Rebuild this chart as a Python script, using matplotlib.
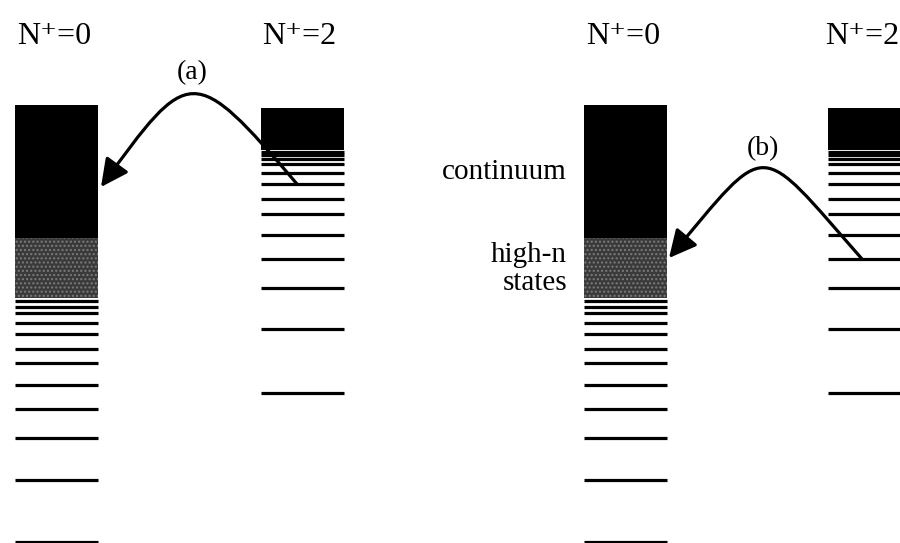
import matplotlib
matplotlib.use("Agg")
import matplotlib.pyplot as plt
from matplotlib.patches import FancyArrowPatch
from matplotlib.path import Path

plt.rcParams['font.family'] = ['Liberation Serif', 'DejaVu Serif']
plt.rcParams['hatch.linewidth'] = 1.0

# Energies (arbitrary units) of the Rydberg levels below each ionic core
levels_n0 = [242, 236.5, 230, 220, 209, 194, 180, 158, 134, 105, 63, 1]
levels_n2 = [391, 388, 384, 379, 370, 359, 344, 329, 308, 284, 255, 214, 150]

# Continuum (black) and high-n region (grey) for each series
cont_n0 = (305, 438)
highn_n0 = (245, 305)
cont_n2 = (393, 435)

col_labels = ['N\u207a=0', 'N\u207a=2']
panel_labels = ['(a)', '(b)']

fig = plt.figure(figsize=(9, 5.43), dpi=100)
ax = fig.add_axes([0, 0, 1, 1])
ax.set_xlim(0, 900)
ax.set_ylim(0, 543)
ax.axis('off')

col_w = 83
lw = 2.3


def draw_ladder(x0, levels, cont, highn=None):
    ax.bar(x0, cont[1] - cont[0], bottom=cont[0], width=col_w, align='edge',
           color='black', linewidth=0)
    if highn is not None:
        ax.bar(x0, highn[1] - highn[0], bottom=highn[0], width=col_w, align='edge',
               facecolor='#3a3a3a', edgecolor='#7c7c7c', hatch='....', linewidth=0)
    ax.hlines(levels, x0, x0 + col_w, colors='black', linewidth=lw)


def curved_arrow(start, tip, peak_y, lean_start, lean_tip, label, label_y):
    h = (peak_y - (start[1] + tip[1]) / 2) / 0.75
    verts = [start,
             (start[0] - lean_start, start[1] + h),
             (tip[0] + lean_tip, tip[1] + h),
             tip]
    path = Path(verts, [Path.MOVETO, Path.CURVE4, Path.CURVE4, Path.CURVE4])
    arr = FancyArrowPatch(path=path, arrowstyle='-|>,head_length=0.6,head_width=0.3',
                          mutation_scale=28, color='black', linewidth=lw)
    ax.add_patch(arr)
    mid_x = 0.125 * verts[0][0] + 0.375 * verts[1][0] + 0.375 * verts[2][0] + 0.125 * verts[3][0]
    ax.text(mid_x - 1, label_y, label, ha='center', va='center', fontsize=20)


panels = [(15, 261), (584, 828)]
for (x_n0, x_n2) in panels:
    draw_ladder(x_n0, levels_n0, cont_n0, highn_n0)
    draw_ladder(x_n2, levels_n2, cont_n2)
    ax.text(x_n0 + col_w / 2 - 2, 507, col_labels[0], ha='center', va='center', fontsize=23)
    # keep the right-most label inside the figure edge
    lx = min(x_n2 + col_w / 2 - 2 + 36, 899)
    ax.text(lx, 507, col_labels[1], ha='right', va='center', fontsize=23)

# (a): from an N+=2 level into the N+=0 continuum
curved_arrow((297, levels_n2[5]), (101, 356), 449, 104, 88, panel_labels[0], 470)
# (b): from a lower N+=2 level into the high-n N+=0 states
curved_arrow((862, levels_n2[9]), (669, 285), 375, 106, 101, panel_labels[1], 394)

ax.text(567, 371, 'continuum', ha='right', va='center', fontsize=21)
ax.text(567, 288, 'high-n', ha='right', va='center', fontsize=21)
ax.text(567, 260, 'states', ha='right', va='center', fontsize=21)

fig.savefig('out.png', dpi=100)
